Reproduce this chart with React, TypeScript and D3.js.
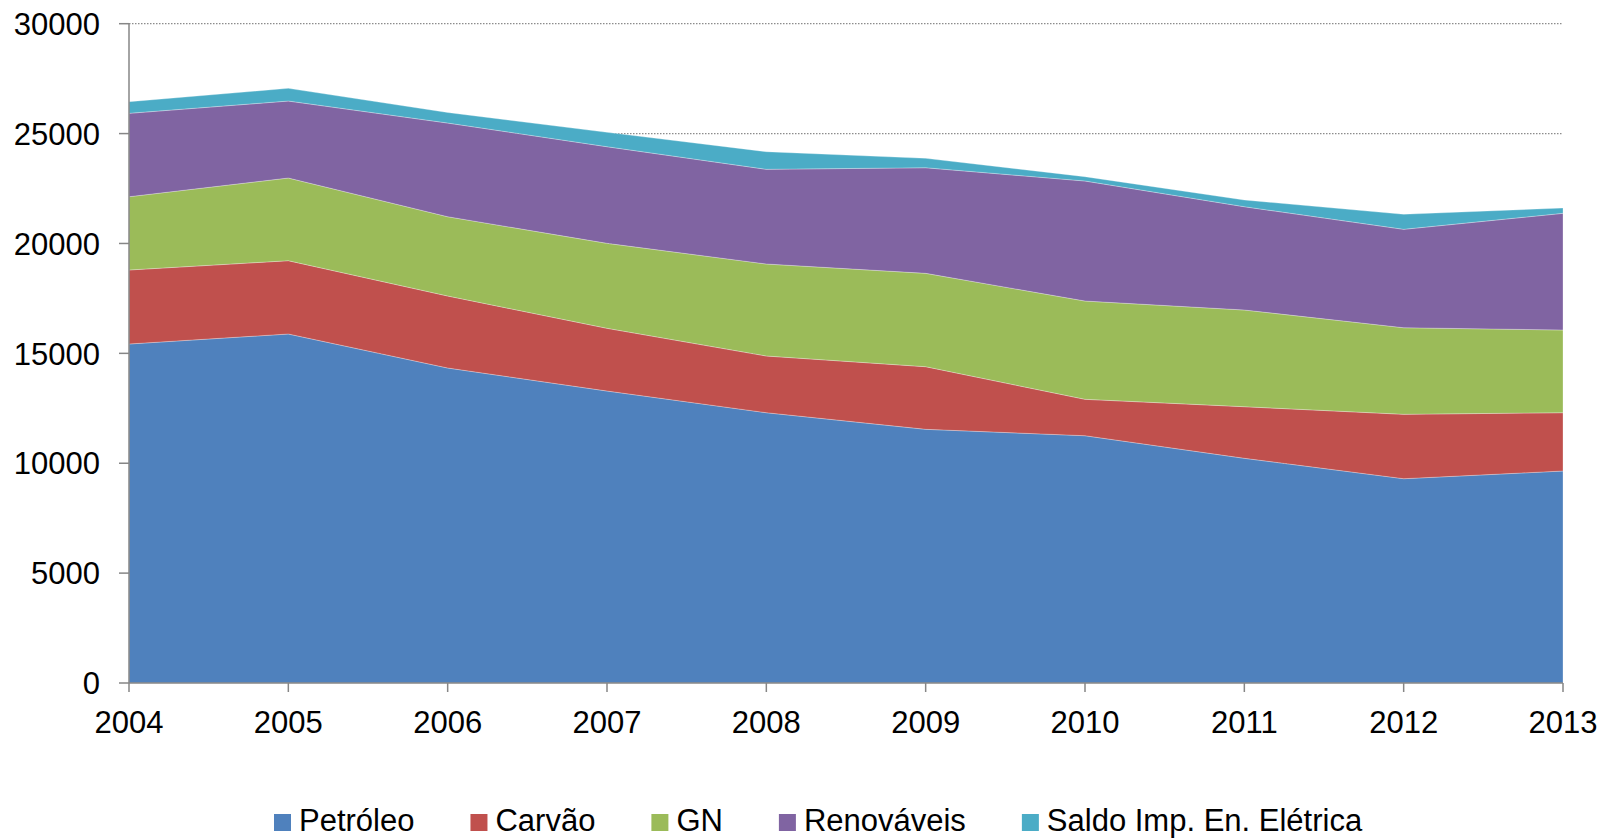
import React from "react";
import * as d3 from "d3";

const years = [2004, 2005, 2006, 2007, 2008, 2009, 2010, 2011, 2012, 2013];
const seriesNames = ["Petróleo", "Carvão", "GN", "Renováveis", "Saldo Imp. En. Elétrica"];
const petroleo = [15425, 15880, 14333, 13286, 12299, 11543, 11252, 10224, 9296, 9646];
const carvao = [3367, 3335, 3276, 2853, 2580, 2849, 1656, 2348, 2930, 2653];
const gn = [3335, 3763, 3608, 3867, 4186, 4249, 4473, 4400, 3940, 3763];
const renovaveis = [3794, 3503, 4263, 4396, 4308, 4805, 5460, 4700, 4477, 5309];
const saldo = [528, 578, 478, 655, 801, 428, 196, 305, 683, 242];
const yTicks = [0, 5000, 10000, 15000, 20000, 25000, 30000];
const colors = ["#4F81BD", "#C0504D", "#9BBB59", "#8064A2", "#4BACC6"];

const W = 1602;
const H = 839;
const FONT = "'Liberation Sans', Arial, sans-serif";

function measure(text: string, size: number) {
  const c = document.createElement("canvas");
  const ctx = c.getContext("2d");
  if (!ctx) return text.length * size * 0.55;
  ctx.font = `${size}px 'Liberation Sans'`;
  return ctx.measureText(text).width;
}

export default function App() {
  const left = 129;
  const right = 1563;
  const top = 23.7;
  const bottom = 683;

  const x = d3.scaleLinear().domain([years[0], years[years.length - 1]]).range([left, right]);
  const y = d3.scaleLinear().domain([0, 30000]).range([bottom, top]);

  const seriesData = [petroleo, carvao, gn, renovaveis, saldo];
  const rows = years.map((yr, i) => {
    const r: any = { year: yr };
    seriesNames.forEach((n, k) => (r[n] = seriesData[k][i]));
    return r;
  });
  const stacked = d3.stack().keys(seriesNames)(rows as any);
  const area = d3
    .area<any>()
    .x((d: any) => x(d.data.year))
    .y0((d: any) => y(d[0]))
    .y1((d: any) => y(d[1]));

  // legend layout
  const fs = 31;
  let lx = 274;
  const legendItems = seriesNames.map((n, i) => {
    const item = { name: n, color: colors[i], x: lx };
    lx += 25 + measure(n, fs) + 56;
    return item;
  });

  return (
    <svg
      width={W}
      height={H}
      style={{ position: "absolute", left: 0, top: 0, background: "#fff" }}
      fontFamily={FONT}
    >
      <rect x={0} y={0} width={W} height={H} fill="#fff" />
      {yTicks.slice(1).map((t) => (
        <line
          key={"g" + t}
          x1={left}
          x2={right}
          y1={y(t)}
          y2={y(t)}
          stroke="#8c8c8c"
          strokeWidth={1.3}
          strokeDasharray="1.5,1.5"
        />
      ))}
      {stacked.map((s, i) => (
        <path key={i} d={area(s as any) || ""} fill={colors[i]} stroke="rgba(255,255,255,0.35)" strokeWidth={0.8} />
      ))}
      {/* y axis */}
      <line x1={left} x2={left} y1={top} y2={bottom} stroke="#868686" strokeWidth={1.5} />
      {yTicks.map((t) => (
        <g key={"y" + t}>
          <line x1={left - 10} x2={left} y1={y(t)} y2={y(t)} stroke="#868686" strokeWidth={1.5} />
          <text x={100} y={y(t)} dy="0.36em" textAnchor="end" fontSize={fs} fill="#000">
            {t}
          </text>
        </g>
      ))}
      {/* x axis */}
      <line x1={left} x2={right} y1={bottom} y2={bottom} stroke="#868686" strokeWidth={1.5} />
      {years.map((yr) => (
        <g key={"x" + yr}>
          <line x1={x(yr)} x2={x(yr)} y1={bottom} y2={bottom + 9} stroke="#868686" strokeWidth={1.5} />
          <text x={x(yr)} y={733} textAnchor="middle" fontSize={fs} fill="#000">
            {yr}
          </text>
        </g>
      ))}
      {/* legend */}
      {legendItems.map((it) => (
        <g key={it.name}>
          <rect x={it.x} y={814} width={17} height={17} fill={it.color} />
          <text x={it.x + 25} y={831} fontSize={fs} fill="#000">
            {it.name}
          </text>
        </g>
      ))}
    </svg>
  );
}
